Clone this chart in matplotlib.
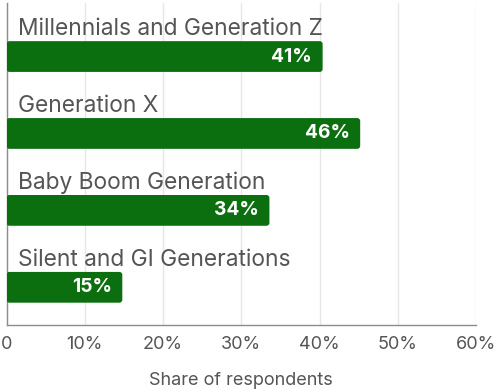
import matplotlib
matplotlib.use("Agg")
import matplotlib.pyplot as plt
from matplotlib.patches import FancyBboxPatch

categories = ["Millennials and Generation Z", "Generation X", "Baby Boom Generation", "Silent and GI Generations"]
values = [40.4, 45.2, 33.6, 14.8]
value_labels = ["41%", "46%", "34%", "15%"]
xticks = [0, 10, 20, 30, 40, 50, 60]
xtick_labels = ["0", "10%", "20%", "30%", "40%", "50%", "60%"]
xlabel = "Share of respondents"

plt.rcParams['font.family'] = ['Inter', 'DejaVu Sans']

fig = plt.figure(figsize=(4.95, 3.91), dpi=100)
W, H = 495, 391
left, right, top, bottom = 6.5, 476, 3, 325
ax = fig.add_axes([left / W, 1 - bottom / H, (right - left) / W, (bottom - top) / H])

green = "#0b6e0f"
ypos = list(range(len(categories)))
bars = ax.barh(ypos, values, height=0.40, color=green, zorder=3)
ax.set_xlim(0, 60)
ax.set_ylim(3.49, -0.696)

# rounded corners
for b in bars:
    x0, y0 = b.get_x(), b.get_y()
    w, h = b.get_width(), b.get_height()
    b.set_visible(False)
    fb = FancyBboxPatch((x0, y0), w, h, boxstyle="round,pad=0,rounding_size=0.38",
                        mutation_aspect=0.1, facecolor=green, edgecolor="none", zorder=3)
    ax.add_patch(fb)

for i, (cat, v, lab) in enumerate(zip(categories, values, value_labels)):
    ax.annotate(cat, xy=(0, i), xytext=(8.5, 15.5), textcoords="offset points",
                ha="left", va="baseline", fontsize=16.4, color="#555555")
    ax.annotate(lab, xy=(v, i), xytext=(-7.5, 0), textcoords="offset points",
                ha="right", va="center", fontsize=13.8, fontweight="bold", color="white", zorder=4)

ax.set_xticks(xticks)
ax.set_xticklabels(xtick_labels)
ax.set_yticks([])
ax.tick_params(axis="x", length=0, pad=7.8, labelsize=13, labelcolor="#555555")
ax.grid(axis="x", color="#e6e6e6", linewidth=1, zorder=0)
for s in ["top", "right"]:
    ax.spines[s].set_visible(False)
for s in ["left", "bottom"]:
    ax.spines[s].set_color("#8c8c8c")
    ax.spines[s].set_linewidth(1)
ax.set_xlabel(xlabel, fontsize=13, color="#555555", labelpad=13.5)

fig.savefig("out.png", dpi=100)
